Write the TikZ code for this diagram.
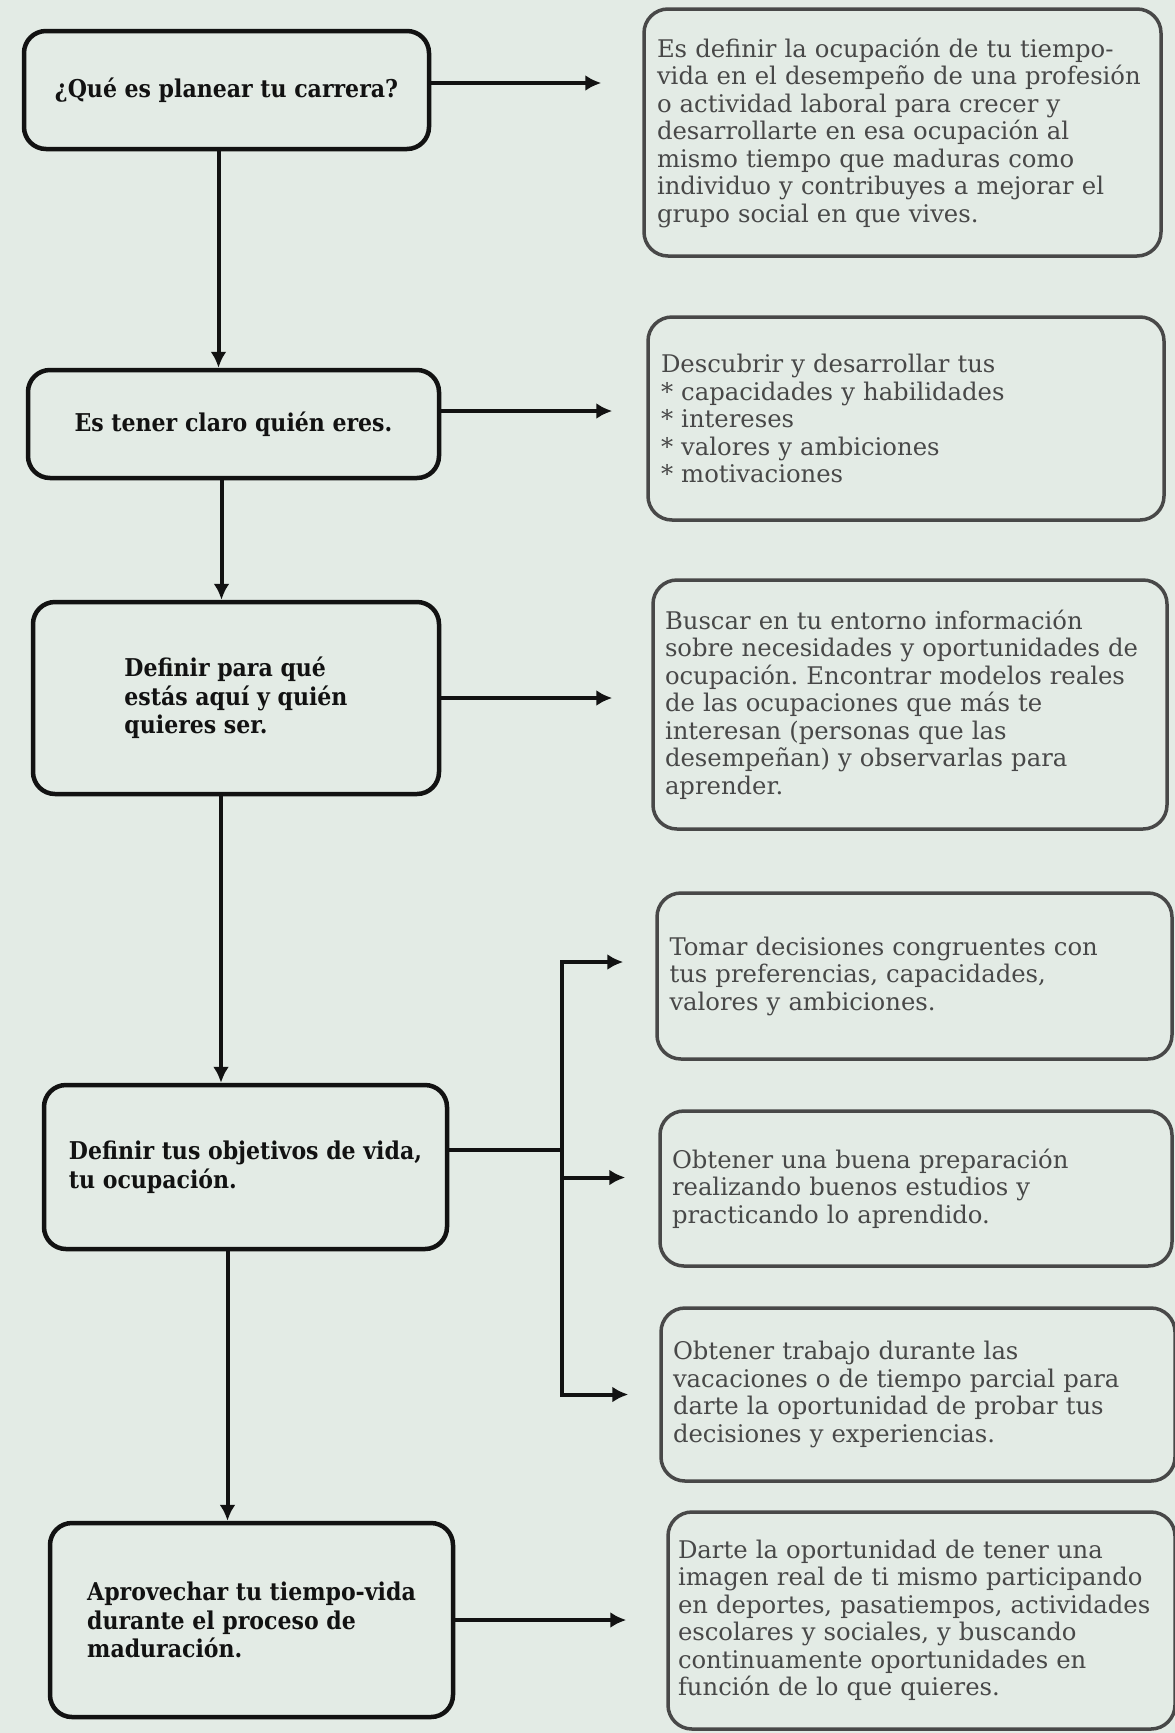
\documentclass[tikz,border=0pt]{standalone}
\usepackage{fontspec}
\setmainfont{DejaVu Serif}
\newfontfamily\askfont{DejaVu Serif Condensed}
\usetikzlibrary{arrows.meta,positioning}
\definecolor{paper}{RGB}{227,235,229}
\definecolor{ink}{RGB}{18,18,18}
\definecolor{greyink}{RGB}{72,72,72}
\frenchspacing

\begin{document}
\begin{tikzpicture}[
        x = 1pt, y = -1pt,
        question/.style = {draw = ink, line width = 4.5pt, rounded corners = 22pt,
            align = left, inner sep = 0pt, text = ink,
            font = \askfont\bfseries\fontsize{24.5}{28.5}\selectfont},
        answer/.style = {draw = greyink, line width = 3.5pt, rounded corners = 24pt,
            align = left, inner sep = 0pt, text = greyink,
            font = \fontsize{24.3}{27.5}\selectfont},
        link/.style = {draw = ink, line width = 4pt,
            -{Latex[length = 16pt, width = 16pt]}},
        ]
    \useasboundingbox (0,0) rectangle (1175,1733);
    \fill[paper] (0,0) rectangle (1175,1733);

    % left column
    \node[question, minimum width = 405pt, minimum height = 118pt] (q1) at (226.5,90)
        {¿Qué es planear tu carrera?};
    \node[question, minimum width = 411pt, minimum height = 108pt] (q2) at (233.5,424)
        {Es tener claro quién eres.};
    \node[question, minimum width = 406pt, minimum height = 192pt] (q3) at (236,698)
        {Definir para qué\\estás aquí y quién\\quieres ser.};
    \node[question, minimum width = 403pt, minimum height = 164pt] (q4) at (245.5,1167)
        {Definir tus objetivos de vida,\\tu ocupación.};
    \node[question, minimum width = 403pt, minimum height = 194pt] (q5) at (251.5,1620)
        {Aprovechar tu tiempo-vida\\durante el proceso de\\maduración.};

    % right column
    \node[answer, minimum width = 517pt, minimum height = 247pt, text width = 491pt] (a1) at (902.5,132.5)
        {Es definir la ocupación de tu tiempo-\\vida en el desempeño de una profesión\\o actividad laboral para crecer y\\desarrollarte en esa ocupación al\\mismo tiempo que maduras como\\individuo y contribuyes a mejorar el\\grupo social en que vives.};
    \node[answer, minimum width = 516pt, minimum height = 203pt, text width = 490pt] (a2) at (906,418.5)
        {Descubrir y desarrollar tus\\{*} capacidades y habilidades\\{*} intereses\\{*} valores y ambiciones\\{*} motivaciones};
    \node[answer, minimum width = 514pt, minimum height = 249pt, text width = 490pt] (a3) at (910,704.5)
        {Buscar en tu entorno información\\sobre necesidades y oportunidades de\\ocupación. Encontrar modelos reales\\de las ocupaciones que más te\\interesan (personas que las\\desempeñan) y observarlas para\\aprender.};
    \node[answer, minimum width = 515pt, minimum height = 166pt, text width = 490pt] (a4) at (914.5,976)
        {Tomar decisiones congruentes con\\tus preferencias, capacidades,\\valores y ambiciones.\\[10pt]};
    \node[answer, minimum width = 512pt, minimum height = 155pt, text width = 488pt] (a5) at (916,1188.5)
        {Obtener una buena preparación\\realizando buenos estudios y\\practicando lo aprendido.\\[10pt]};
    \node[answer, minimum width = 514pt, minimum height = 173pt, text width = 490pt] (a6) at (918,1394.5)
        {Obtener trabajo durante las\\vacaciones o de tiempo parcial para\\darte la oportunidad de probar tus\\decisiones y experiencias.};
    \node[answer, minimum width = 507pt, minimum height = 217pt, text width = 487pt] (a7) at (921.5,1620.5)
        {Darte la oportunidad de tener una\\imagen real de ti mismo participando\\en deportes, pasatiempos, actividades\\escolares y sociales, y buscando\\continuamente oportunidades en\\función de lo que quieres.};

    % down the left column
    \draw[link] ([xshift = -8pt]q1.south) -- ([xshift = -8pt]q1.south |- q2.north);
    \draw[link] ([xshift = -12pt]q2.south) -- ([xshift = -12pt]q2.south |- q3.north);
    \draw[link] ([xshift = -15pt]q3.south) -- ([xshift = -15pt]q3.south |- q4.north);
    \draw[link] ([xshift = -18pt]q4.south) -- ([xshift = -18pt]q4.south |- q5.north);

    % across
    \draw[link, shorten >= 41pt] ([yshift = 7pt]q1.east) -- ([yshift = 7pt]q1.east -| a1.west);
    \draw[link, shorten >= 34pt] ([yshift = 13pt]q2.east) -- ([yshift = 13pt]q2.east -| a2.west);
    \draw[link, shorten >= 39pt] (q3.east) -- (q3.east -| a3.west);
    \draw[link, shorten >= 40pt] (q5.east) -- (q5.east -| a7.west);

    \coordinate (fork) at (562,1150);
    \draw[draw = ink, line width = 4pt] ([yshift = 17pt]q4.east) -- (fork);
    \draw[link, shorten >= 32pt] (fork) |- ([yshift = 14pt]a4.west);
    \draw[link, shorten >= 33pt] (fork |- a5.west) ++(0,-11) -- ([yshift = 11pt]a5.west);
    \draw[link, shorten >= 31pt] (fork) |- (a6.west);
\end{tikzpicture}
\end{document}
